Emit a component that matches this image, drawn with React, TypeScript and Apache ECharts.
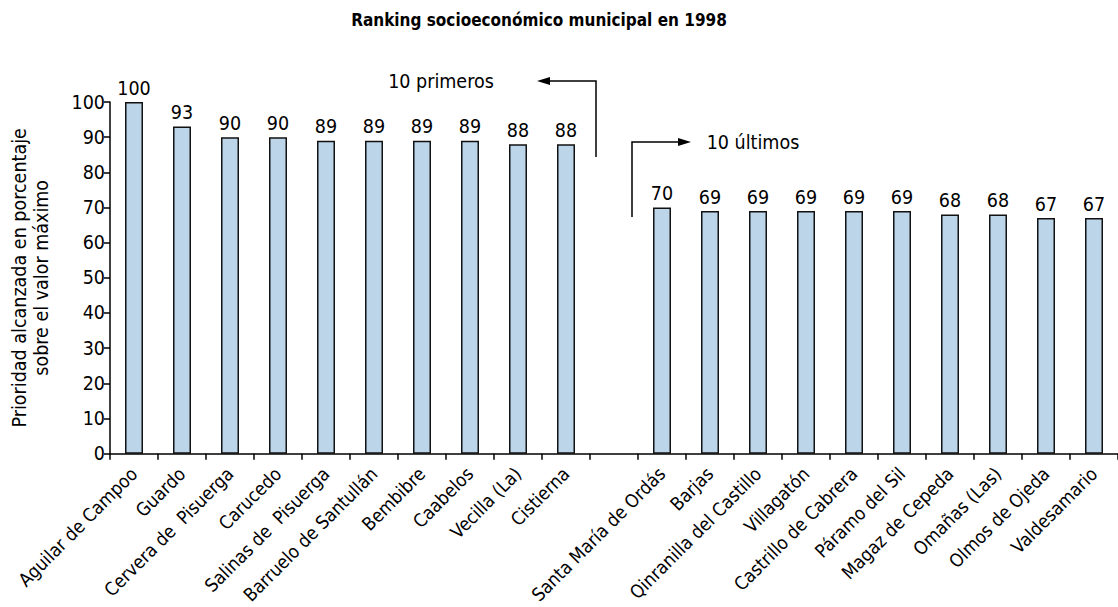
import React, { useEffect, useRef } from "react";
import * as echarts from "echarts";

const categories = [
  "Aguilar de Campoo", "Guardo", "Cervera de  Pisuerga", "Carucedo", "Salinas de  Pisuerga",
  "Barruelo de Santullán", "Bembibre", "Caabelos", "Vecilla (La)", "Cistierna",
  "",
  "Santa María de Ordás", "Barjas", "Qinranilla del Castillo", "Villagatón", "Castrillo de Cabrera",
  "Páramo del Sil", "Magaz de Cepeda", "Omañas (Las)", "Olmos de Ojeda", "Valdesamario",
];
const values: (number | null)[] = [
  100, 93, 90, 90, 89, 89, 89, 89, 88, 88,
  null,
  70, 69, 69, 69, 69, 69, 68, 68, 67, 67,
];
const yTicks = { min: 0, max: 100, interval: 10 };

const FONT = "'DejaVu Sans Condensed', 'Liberation Sans', sans-serif";

export default function App() {
  const ref = useRef<HTMLDivElement>(null);
  useEffect(() => {
    document.body.style.margin = "0";
    if (!ref.current) return;
    const chart = echarts.init(ref.current, null, { renderer: "svg" });
    chart.setOption({
      animation: false,
      backgroundColor: "#ffffff",
      textStyle: { fontFamily: FONT, color: "#000" },
      title: {
        text: "Ranking socioeconómico municipal en 1998",
        left: 534,
        textAlign: "center",
        top: 6,
        textStyle: { fontFamily: FONT, fontSize: 17, fontWeight: "bold", color: "#000" },
      },
      grid: { left: 110, top: 102, width: 1015, height: 352 },
      xAxis: {
        type: "category",
        data: categories,
        boundaryGap: true,
        axisLine: { lineStyle: { color: "#000", width: 1.5 } },
        axisTick: { show: true, length: 6, lineStyle: { color: "#000", width: 1.5 } },
        axisLabel: {
          rotate: 45,
          interval: 0,
          margin: 17,
          fontSize: 18.5,
          color: "#000",
          fontFamily: FONT,
        },
      },
      yAxis: {
        type: "value",
        min: yTicks.min,
        max: yTicks.max,
        interval: yTicks.interval,
        name: "Prioridad alcanzada en porcentaje\nsobre el valor máximo",
        nameLocation: "middle",
        nameGap: 58,
        nameRotate: 90,
        nameTextStyle: { fontSize: 19.5, color: "#000", fontFamily: FONT, lineHeight: 22 },
        splitLine: { show: false },
        axisLine: { show: true, lineStyle: { color: "#000", width: 1.5 } },
        axisTick: { show: true, length: 6, lineStyle: { color: "#000", width: 1.5 } },
        axisLabel: { fontSize: 19.5, color: "#000", margin: 5, fontFamily: FONT },
      },
      series: [
        {
          type: "bar",
          data: values,
          barWidth: 18,
          itemStyle: { color: "#bdd5e8", borderColor: "#111", borderWidth: 1.5 },
          label: {
            show: true,
            position: "top",
            distance: 4,
            fontSize: 19.5,
            color: "#000",
            fontFamily: FONT,
          },
        },
      ],
      graphic: [
        {
          type: "polyline",
          shape: { points: [[596, 157], [596, 81], [548, 81]] },
          style: { stroke: "#000", lineWidth: 1.5, fill: "none" },
        },
        {
          type: "polygon",
          shape: { points: [[537, 81], [550, 77], [550, 85]] },
          style: { fill: "#000" },
        },
        {
          type: "text",
          x: 441,
          y: 81,
          style: { text: "10 primeros", fontSize: 19.5, fontFamily: FONT, fill: "#000", align: "center", verticalAlign: "middle" },
        },
        {
          type: "polyline",
          shape: { points: [[632, 217], [632, 142], [680, 142]] },
          style: { stroke: "#000", lineWidth: 1.5, fill: "none" },
        },
        {
          type: "polygon",
          shape: { points: [[691, 142], [678, 138], [678, 146]] },
          style: { fill: "#000" },
        },
        {
          type: "text",
          x: 753,
          y: 142,
          style: { text: "10 últimos", fontSize: 19.5, fontFamily: FONT, fill: "#000", align: "center", verticalAlign: "middle" },
        },
      ],
    });
    return () => chart.dispose();
  }, []);
  return <div ref={ref} style={{ width: 1118, height: 607 }} />;
}
